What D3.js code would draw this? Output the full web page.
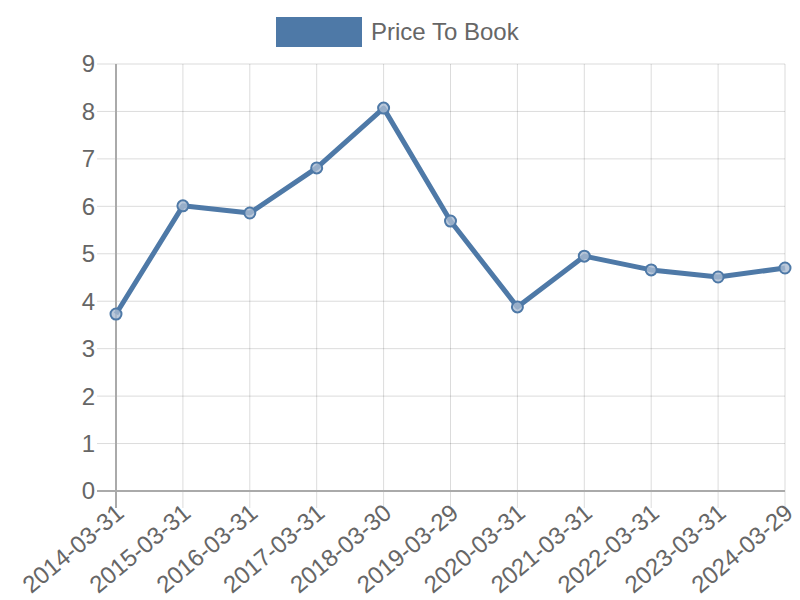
<!DOCTYPE html>
<html><head><meta charset="utf-8">
<script src="https://cdn.jsdelivr.net/npm/d3@7"></script>
<style>body{margin:0;background:#fff}svg{display:block}text{font-family:"Liberation Sans",Arial,sans-serif}</style>
</head><body><svg id="c" width="800" height="600"></svg>
<script>
const categories = ["2014-03-31","2015-03-31","2016-03-31","2017-03-31","2018-03-30","2019-03-29","2020-03-31","2021-03-31","2022-03-31","2023-03-31","2024-03-29"];
const values = [3.73, 6.01, 5.86, 6.81, 8.07, 5.69, 3.88, 4.95, 4.66, 4.51, 4.70];
const yTicks = [0,1,2,3,4,5,6,7,8,9];
const seriesName = "Price To Book";

const svg = d3.select("#c");
const L = 116, R = 785, T = 64, B = 491;
const color = "#4e79a7";
const x = d3.scalePoint().domain(categories).range([L, R]);
const y = d3.scaleLinear().domain([0, 9]).range([B, T]);

const g = svg.append("g");
g.selectAll(".hg").data(yTicks).join("line")
  .attr("x1", L - 19).attr("x2", R).attr("y1", d => y(d)).attr("y2", d => y(d))
  .attr("stroke", "rgba(0,0,0,0.14)").attr("stroke-width", 1);
g.selectAll(".vg").data(categories).join("line")
  .attr("x1", d => x(d)).attr("x2", d => x(d)).attr("y1", T).attr("y2", B + 17)
  .attr("stroke", "rgba(0,0,0,0.14)").attr("stroke-width", 1);

svg.append("line").attr("x1", L).attr("x2", L).attr("y1", T).attr("y2", B + 17).attr("stroke", "#aaa").attr("stroke-width", 2);
svg.append("line").attr("x1", L - 19).attr("x2", R).attr("y1", B).attr("y2", B).attr("stroke", "#aaa").attr("stroke-width", 2);

svg.selectAll(".yl").data(yTicks).join("text")
  .attr("x", L - 21).attr("y", d => y(d)).attr("dy", "0.35em")
  .attr("text-anchor", "end").attr("font-size", 24).attr("fill", "#666").text(d => d);

svg.selectAll(".xl").data(categories).join("text")
  .attr("transform", d => `translate(${x(d) + 4},${B + 18}) rotate(-40)`)
  .attr("text-anchor", "end").attr("dy", "0.35em").attr("font-size", 24).attr("fill", "#666").text(d => d);

const line = d3.line().x((d, i) => x(categories[i])).y(d => y(d));
svg.append("path").datum(values).attr("d", line).attr("fill", "none")
  .attr("stroke", color).attr("stroke-width", 5).attr("stroke-linejoin", "round");
svg.selectAll(".pt").data(values).join("circle")
  .attr("cx", (d, i) => x(categories[i])).attr("cy", d => y(d)).attr("r", 5.5)
  .attr("fill", "rgba(170,188,210,0.8)").attr("stroke", color).attr("stroke-width", 2);

svg.append("rect").attr("x", 276).attr("y", 17).attr("width", 86).attr("height", 30).attr("fill", color);
svg.append("text").attr("x", 371).attr("y", 40).attr("font-size", 24).attr("fill", "#666").text(seriesName);
</script></body></html>
